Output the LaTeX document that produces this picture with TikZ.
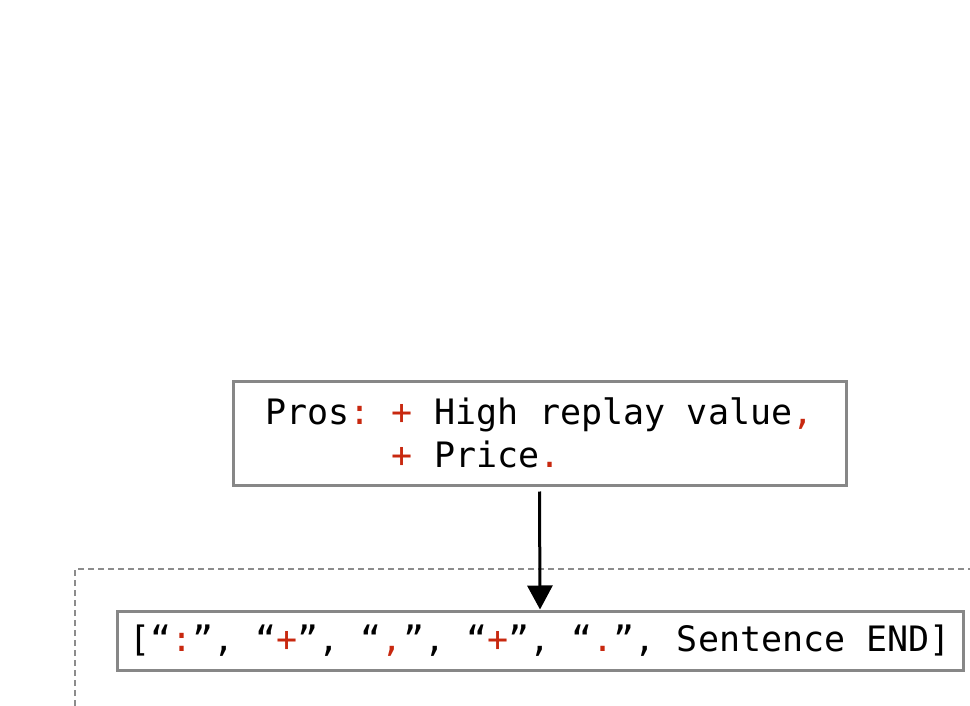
\documentclass[tikz,border=0pt]{standalone}
\usepackage{fontspec}
\setmonofont{DejaVu Sans Mono}
\usetikzlibrary{arrows.meta}
\definecolor{boxgray}{RGB}{135,135,135}
\definecolor{dashgray}{RGB}{140,140,140}
\definecolor{punct}{RGB}{200,40,15}
\newcommand{\rd}[1]{\textcolor{punct}{#1}}
\tikzset{
  textbox/.style={draw=boxgray, line width=3pt, fill=white, inner sep=0pt,
    font=\ttfamily\fontsize{35}{43}\selectfont, align=left},
  flowarrow/.style={line width=3pt, -{Triangle[width=25pt,length=24pt]}},
  groupframe/.style={draw=dashgray, line width=2.5pt, dash pattern=on 6pt off 4pt}
}
\begin{document}
\begin{tikzpicture}[x=1pt,y=-1pt]
\useasboundingbox (0,0) rectangle (970,706);
\draw[groupframe] (75,706) -- (75,569) -- (972,569);
\node[textbox, minimum width=613pt, minimum height=104pt] (pros) at (539.5,433)
  {Pros\rd{:} \rd{+} High replay value\rd{,}\\\hphantom{Pros: }\rd{+} Price\rd{.}};
\node[textbox, minimum width=846pt, minimum height=59pt] (tokens) at (540,640.5)
  {[“\rd{:}”, “\rd{+}”, “\rd{,}”, “\rd{+}”, “\rd{.}”, Sentence END]};
\draw[flowarrow, shorten <=5pt] (pros.south) -- (tokens.north);
\end{tikzpicture}
\end{document}
